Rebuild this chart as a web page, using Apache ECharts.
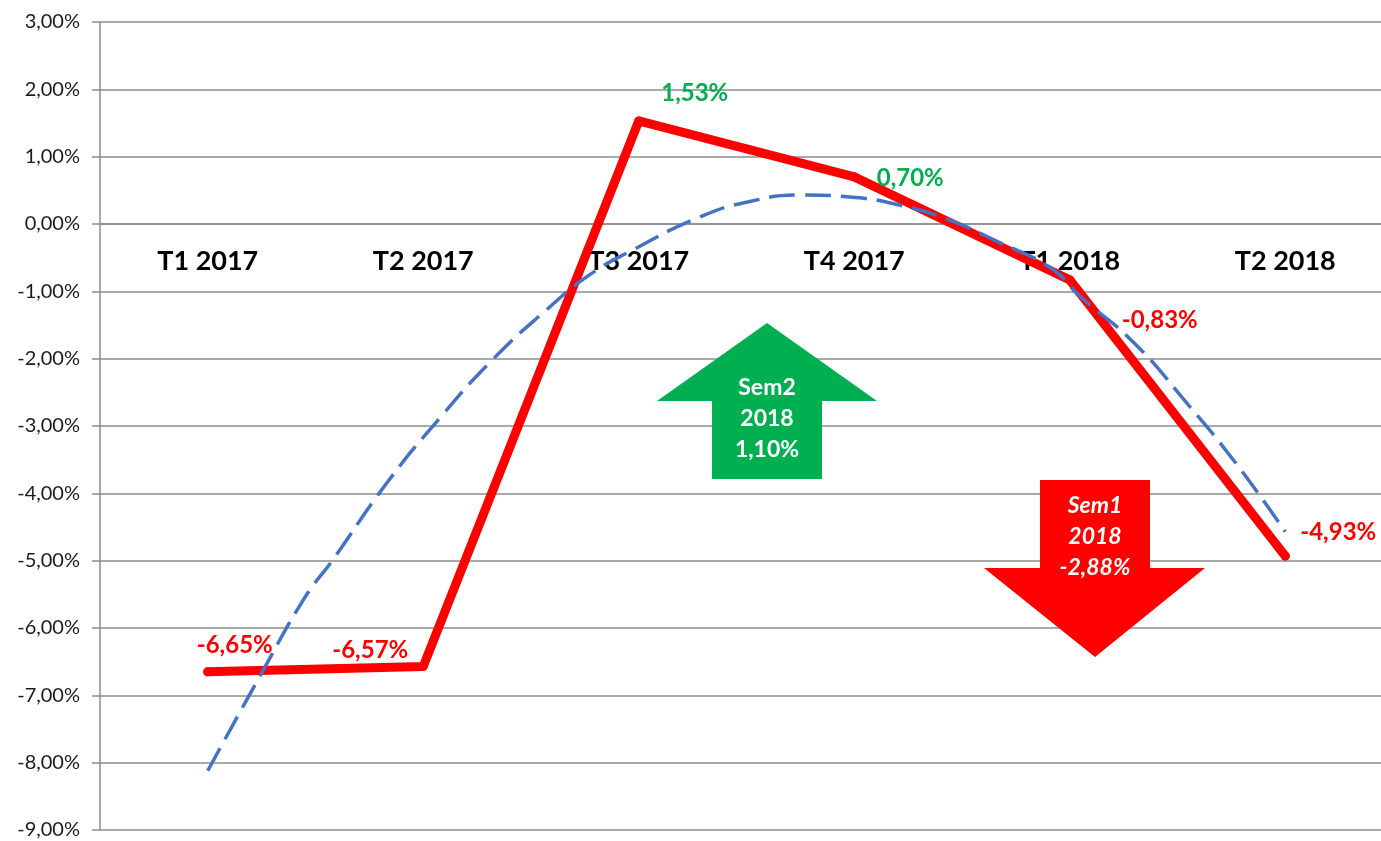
<!DOCTYPE html>
<html>
<head>
<meta charset="utf-8">
<script src="https://cdn.jsdelivr.net/npm/echarts@6/dist/echarts.min.js"></script>
<style>
  html, body { margin: 0; padding: 0; background: #fff; }
  #chart { width: 1381px; height: 841px; }
</style>
</head>
<body>
<div id="chart"></div>
<script>
// quarters
const categories = ['T1 2017', 'T2 2017', 'T3 2017', 'T4 2017', 'T1 2018', 'T2 2018']
// quarterly variation (%)
const variation = [-6.65, -6.57, 1.53, 0.70, -0.83, -4.93]
// polynomial trend: x in category units (0..6), y in %
const trendX = [0.50, 0.75, 0.95, 1.08, 1.33, 1.58, 1.82, 2.07, 2.27, 2.47, 2.78, 3.01, 3.25, 3.48, 3.71, 3.94, 4.17, 4.41, 4.55, 4.80, 5.03, 5.27, 5.50]
const trendY = [-8.12, -6.67, -5.55, -4.99, -3.85, -2.87, -2.02, -1.28, -0.76, -0.39, 0.10, 0.33, 0.43, 0.40, 0.28, 0.06, -0.27, -0.65, -1.08, -1.77, -2.61, -3.55, -4.57]
// semester boxes
const sem2 = ['Sem2', '2018', '1,10%']
const sem1 = ['Sem1', '2018', '-2,88%']

// where each value label sits relative to its point (px)
const labelOffsets = [[27, -27], [-53, -16], [56, -28], [56, 1], [90, 40], [53, -24]]

const Y_MIN = -9
const Y_MAX = 3
const FONT = 'Lato, "Open Sans", sans-serif'
const GRID = '#8d8d8d'
const PLOT = { left: 100, top: 22, width: 1293, height: 808, outerBoundsMode: 'none' }
// category axis sits on the 0 line
const zeroOffset = -PLOT.height * (0 - Y_MIN) / (Y_MAX - Y_MIN)

function pct(v) {
  return v.toFixed(2).replace('.', ',') + '%'
}

const chart = echarts.init(document.getElementById('chart'))

const lineData = variation.map((v, i) => ({
  value: v,
  label: {
    offset: labelOffsets[i],
    color: v >= 0 ? '#00B050' : '#FF0000'
  }
}))

function arrowText(lines, x, ys, italic) {
  return lines.map((t, i) => ({
    type: 'text',
    x: x,
    y: ys[i],
    z: 20,
    style: {
      text: t,
      fill: '#fff',
      font: (italic ? 'italic ' : '') + 'bold 23px ' + FONT,
      textAlign: 'center',
      textVerticalAlign: 'middle'
    }
  }))
}

chart.setOption({
  animation: false,
  // second grid sits on top of the first, only for the trend curve
  grid: [Object.assign({}, PLOT), Object.assign({}, PLOT)],
  xAxis: [
    {
      type: 'category',
      gridIndex: 0,
      data: categories,
      position: 'bottom',
      offset: zeroOffset,
      axisLine: { onZero: false, lineStyle: { color: GRID, width: 1.5 } },
      axisTick: { length: 9, lineStyle: { color: GRID, width: 1.5 } },
      axisLabel: {
        color: '#000',
        fontFamily: FONT,
        fontWeight: 'bold',
        fontSize: 27,
        margin: 24
      }
    },
    {
      type: 'value',
      gridIndex: 1,
      min: 0,
      max: 6,
      show: false
    }
  ],
  yAxis: [
    {
      type: 'value',
      gridIndex: 0,
      min: Y_MIN,
      max: Y_MAX,
      interval: 1,
      axisLine: { show: true, onZero: false, lineStyle: { color: GRID, width: 1.5 } },
      axisTick: { show: true, length: 8, lineStyle: { color: GRID, width: 1.5 } },
      splitLine: { lineStyle: { color: GRID, width: 1.5 } },
      axisLabel: {
        color: '#1a1a1a',
        fontFamily: FONT,
        fontSize: 20,
        margin: 20,
        formatter: pct
      }
    },
    {
      type: 'value',
      gridIndex: 1,
      min: Y_MIN,
      max: Y_MAX,
      show: false,
      splitLine: { show: false }
    }
  ],
  series: [
    {
      type: 'line',
      data: lineData,
      symbol: 'circle',
      symbolSize: 9,
      itemStyle: { color: '#FF0000' },
      lineStyle: { color: '#FF0000', width: 9, cap: 'round', join: 'round' },
      label: {
        show: true,
        position: 'inside',
        fontFamily: FONT,
        fontWeight: 'bold',
        fontSize: 24,
        formatter: p => pct(p.value)
      },
      z: 2
    },
    {
      type: 'line',
      xAxisIndex: 1,
      yAxisIndex: 1,
      data: trendX.map((x, i) => [x, trendY[i]]),
      smooth: true,
      symbol: 'none',
      lineStyle: { color: '#4472C4', width: 3.5, type: [26, 10] },
      z: 3
    }
  ],
  graphic: [
    {
      type: 'polygon',
      z: 10,
      shape: { points: [[767, 323], [877, 401], [822, 401], [822, 479], [712, 479], [712, 401], [657, 401]] },
      style: { fill: '#00B050' }
    },
    ...arrowText(sem2, 767, [388, 419, 450], false),
    {
      type: 'polygon',
      z: 10,
      shape: { points: [[1040, 480], [1150, 480], [1150, 568], [1205, 568], [1095, 657], [984, 568], [1040, 568]] },
      style: { fill: '#FF0000' }
    },
    ...arrowText(sem1, 1095, [506, 537, 568], true)
  ]
})
</script>
</body>
</html>
